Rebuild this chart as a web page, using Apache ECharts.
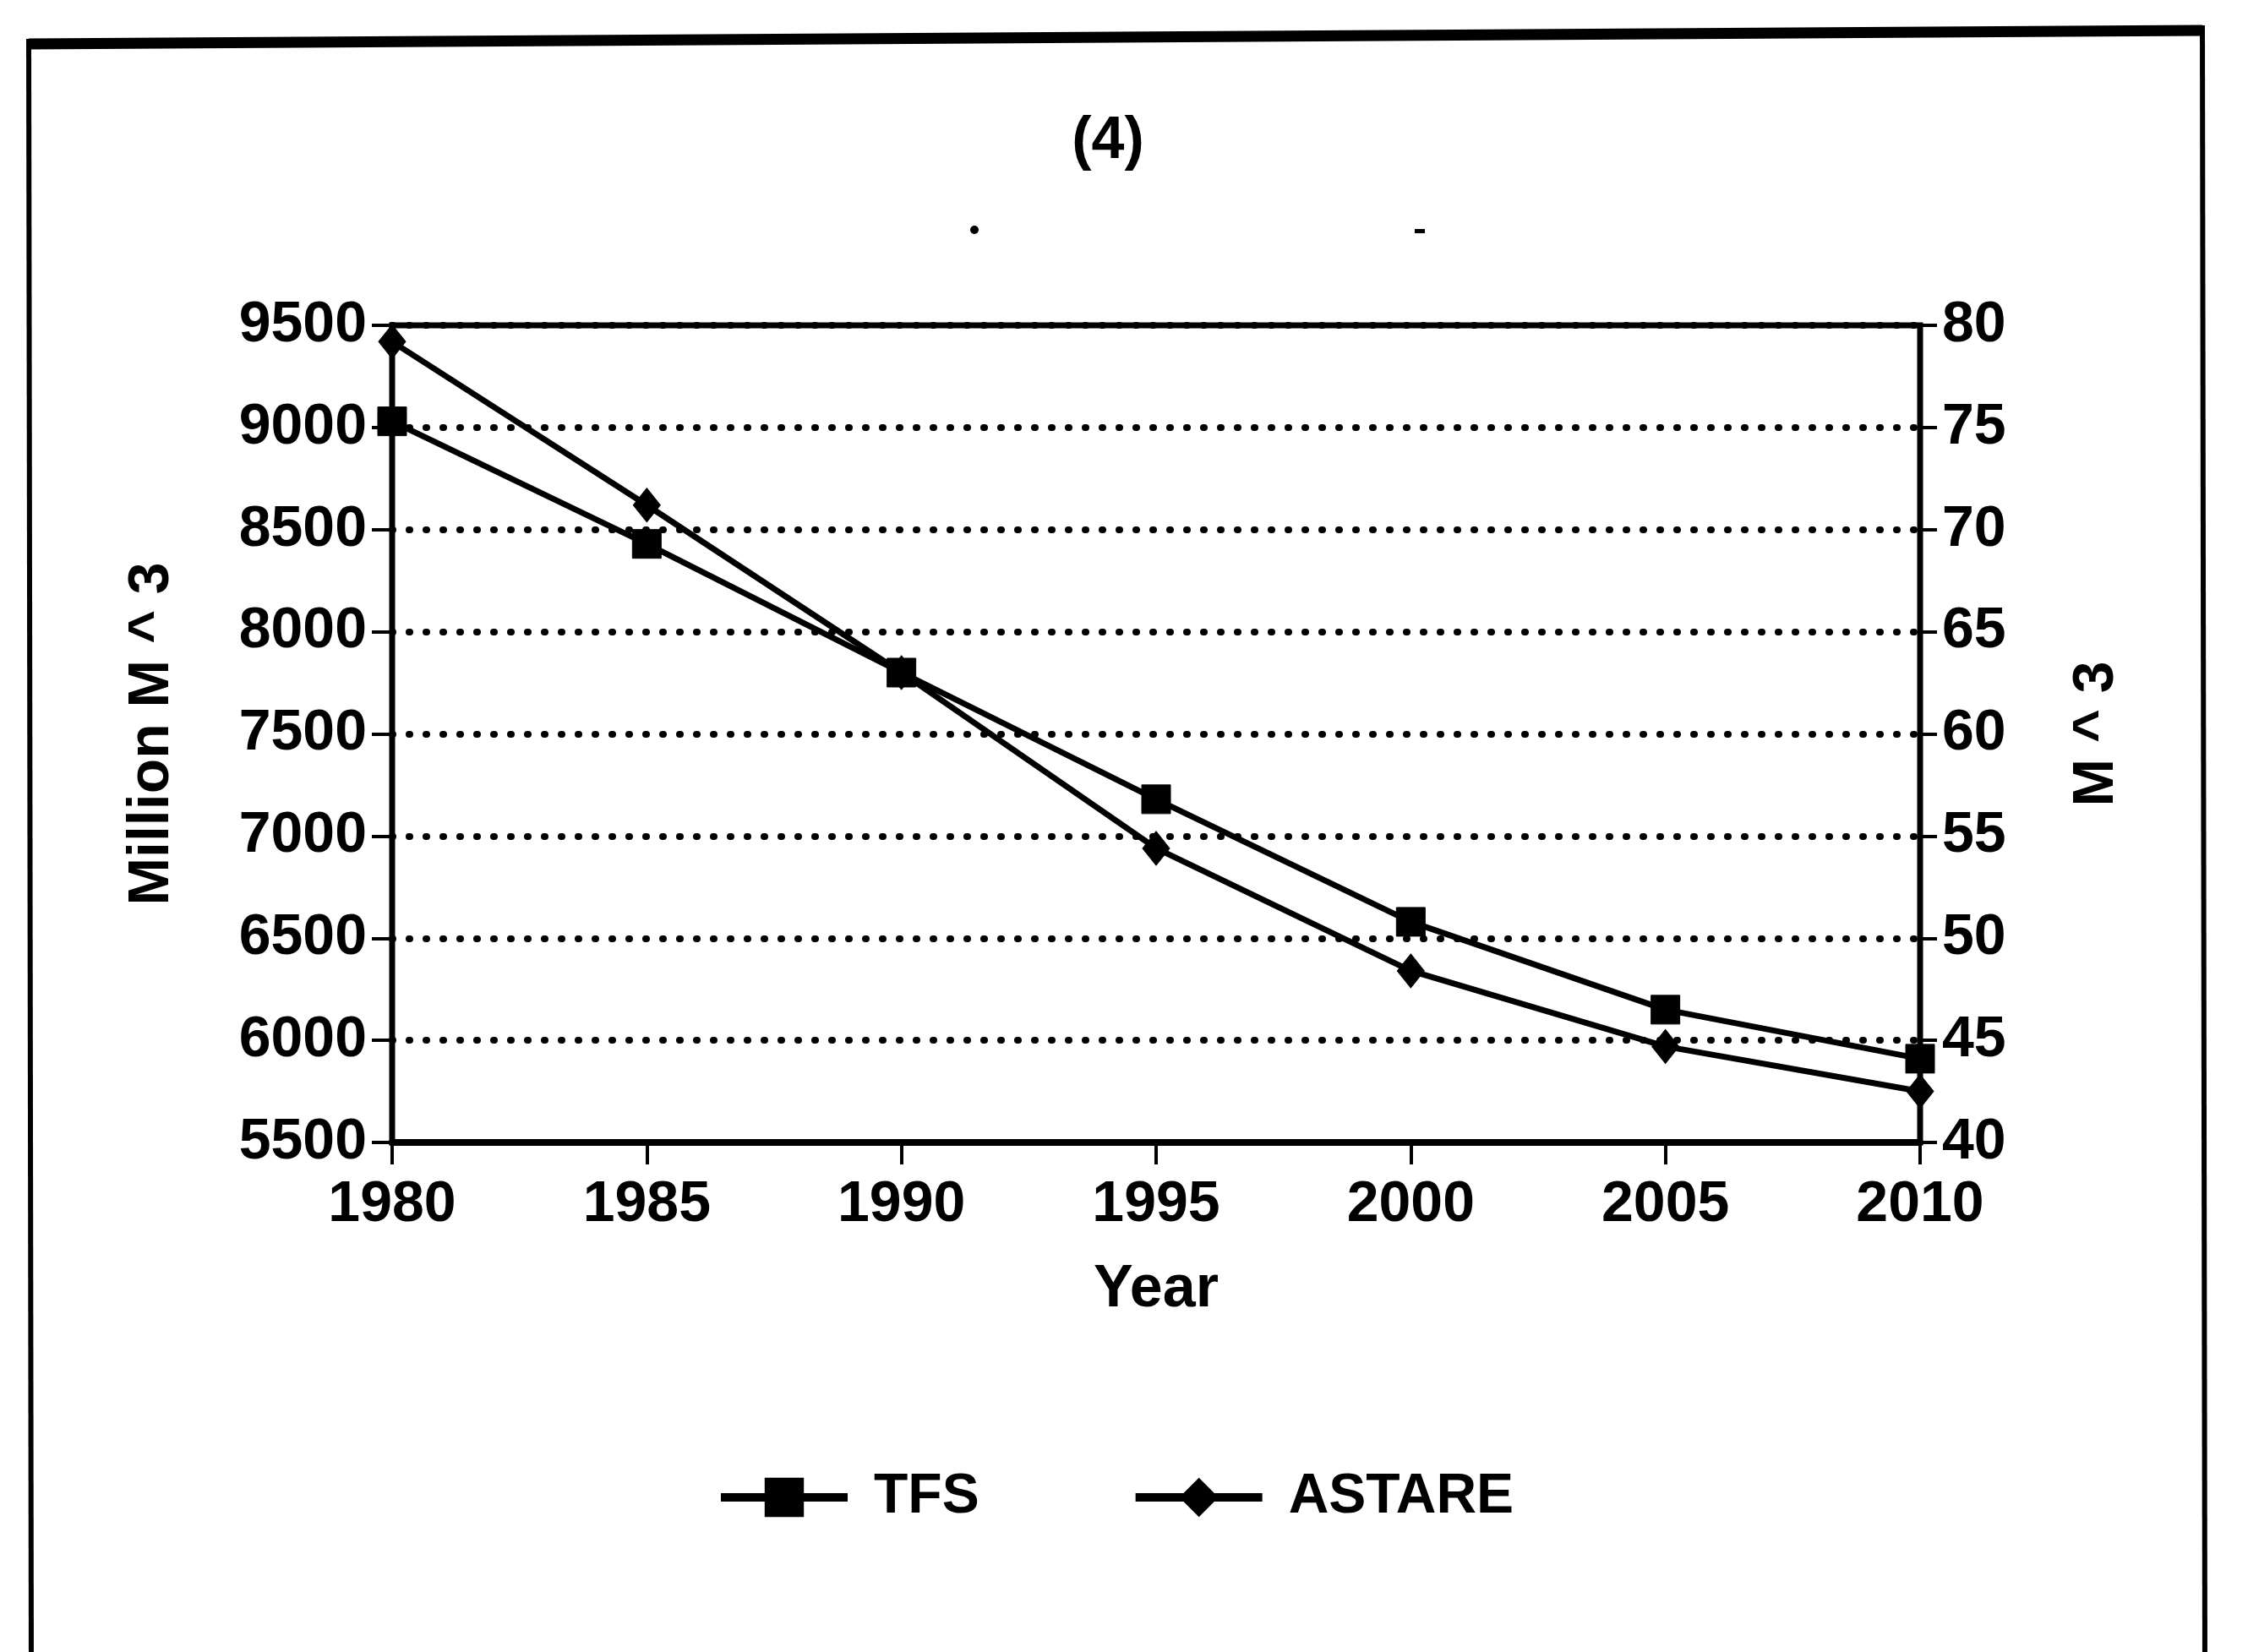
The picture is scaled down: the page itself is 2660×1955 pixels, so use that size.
<!DOCTYPE html>
<html>
<head>
<meta charset="utf-8">
<title>(4)</title>
<script src="https://cdn.jsdelivr.net/npm/echarts@6/dist/echarts.min.js"></script>
<style>
  html, body { margin: 0; padding: 0; background: #ffffff; }
  #chart { width: 2660px; height: 1955px; }
</style>
</head>
<body>
<div id="chart"></div>
<script>
// Years on the horizontal axis
const years = [1980, 1985, 1990, 1995, 2000, 2005, 2010];
// TFS, million m^3 (left axis)
const tfsValues = [9030, 8430, 7800, 7180, 6580, 6150, 5910];
// ASTARE, m^3 (right axis)
const astareValues = [79.2, 71.2, 63.0, 54.4, 48.4, 44.7, 42.5];
const seriesNames = ['TFS', 'ASTARE'];

const FONT = '"Liberation Sans", Arial, sans-serif';
const INK = '#000000';

const toPairs = (xs, ys) => xs.map((x, i) => [x, ys[i]]);
// plain integers, no thousands separators
const plain = (v) => String(Math.round(v));

const chart = echarts.init(document.getElementById('chart'), null, { renderer: 'canvas' });

chart.setOption({
  backgroundColor: '#ffffff',
  animation: false,
  textStyle: { fontFamily: FONT, color: INK },
  title: {
    text: '(4)',
    left: 1306,
    top: 128,
    textAlign: 'center',
    textStyle: { fontFamily: FONT, fontWeight: 'bold', fontSize: 70, color: INK }
  },
  grid: {
    left: 464,
    right: 2660 - 2272,
    top: 385,
    bottom: 1955 - 1352,
    show: true,
    borderColor: INK,
    borderWidth: 7,
    backgroundColor: 'transparent'
  },
  legend: {
    left: 843,
    top: 1734,
    itemWidth: 150,
    itemHeight: 58,
    itemGap: 180,
    data: seriesNames,
    lineStyle: { width: 10, color: INK },
    itemStyle: { color: INK },
    textStyle: { fontFamily: FONT, fontWeight: 'bold', fontSize: 66, color: INK, padding: [0, 0, 0, 26] }
  },
  xAxis: {
    type: 'value',
    min: 1980,
    max: 2010,
    interval: 5,
    name: 'Year',
    nameLocation: 'middle',
    nameGap: 140,
    nameTextStyle: { fontFamily: FONT, fontWeight: 'bold', fontSize: 70, color: INK },
    axisLine: { show: true, lineStyle: { color: INK, width: 8 } },
    axisTick: { show: true, inside: false, length: 26, lineStyle: { color: INK, width: 4 } },
    axisLabel: { margin: 40, formatter: plain, fontFamily: FONT, fontWeight: 'bold', fontSize: 68, color: INK },
    splitLine: { show: false }
  },
  yAxis: [
    {
      type: 'value',
      position: 'left',
      min: 5500,
      max: 9500,
      interval: 500,
      name: 'Million M ^ 3',
      nameLocation: 'middle',
      nameRotate: 90,
      nameGap: 250,
      nameTextStyle: { fontFamily: FONT, fontWeight: 'bold', fontSize: 68, color: INK },
      axisLine: { show: true, onZero: false, lineStyle: { color: INK, width: 5 } },
      axisTick: { show: true, inside: false, length: 24, lineStyle: { color: INK, width: 4 } },
      axisLabel: { margin: 30, formatter: plain, fontFamily: FONT, fontWeight: 'bold', fontSize: 68, color: INK },
      splitLine: {
        show: true,
        lineStyle: { color: INK, width: 8, type: [1, 19], cap: 'round' }
      }
    },
    {
      type: 'value',
      position: 'right',
      min: 40,
      max: 80,
      interval: 5,
      name: 'M ^ 3',
      nameLocation: 'middle',
      nameRotate: 90,
      nameGap: 175,
      nameTextStyle: { fontFamily: FONT, fontWeight: 'bold', fontSize: 68, color: INK },
      axisLine: { show: true, onZero: false, lineStyle: { color: INK, width: 5 } },
      axisTick: { show: true, inside: false, length: 20, lineStyle: { color: INK, width: 4 } },
      axisLabel: { margin: 26, formatter: plain, fontFamily: FONT, fontWeight: 'bold', fontSize: 68, color: INK },
      splitLine: { show: false }
    }
  ],
  series: [
    {
      name: seriesNames[0],
      type: 'line',
      yAxisIndex: 0,
      data: toPairs(years, tfsValues),
      symbol: 'rect',
      symbolSize: 34,
      showAllSymbol: true,
      clip: false,
      lineStyle: { color: INK, width: 7 },
      itemStyle: { color: INK, borderColor: INK },
      z: 5
    },
    {
      name: seriesNames[1],
      type: 'line',
      yAxisIndex: 1,
      data: toPairs(years, astareValues),
      symbol: 'diamond',
      symbolSize: [32, 40],
      showAllSymbol: true,
      clip: false,
      lineStyle: { color: INK, width: 7 },
      itemStyle: { color: INK, borderColor: INK },
      z: 5
    }
  ],
  graphic: [
    // outer frame around the figure
    { type: 'line', shape: { x1: 34, y1: 52, x2: 2606, y2: 36 }, style: { stroke: INK, lineWidth: 13 } },
    { type: 'line', shape: { x1: 34, y1: 46, x2: 37, y2: 1960 }, style: { stroke: INK, lineWidth: 6 } },
    { type: 'line', shape: { x1: 2606, y1: 30, x2: 2609, y2: 1960 }, style: { stroke: INK, lineWidth: 6 } },
    // small specks under the title
    { type: 'circle', shape: { cx: 1153, cy: 272, r: 5 }, style: { fill: INK } },
    { type: 'rect', shape: { x: 1674, y: 271, width: 12, height: 5 }, style: { fill: INK } }
  ]
});
</script>
</body>
</html>
